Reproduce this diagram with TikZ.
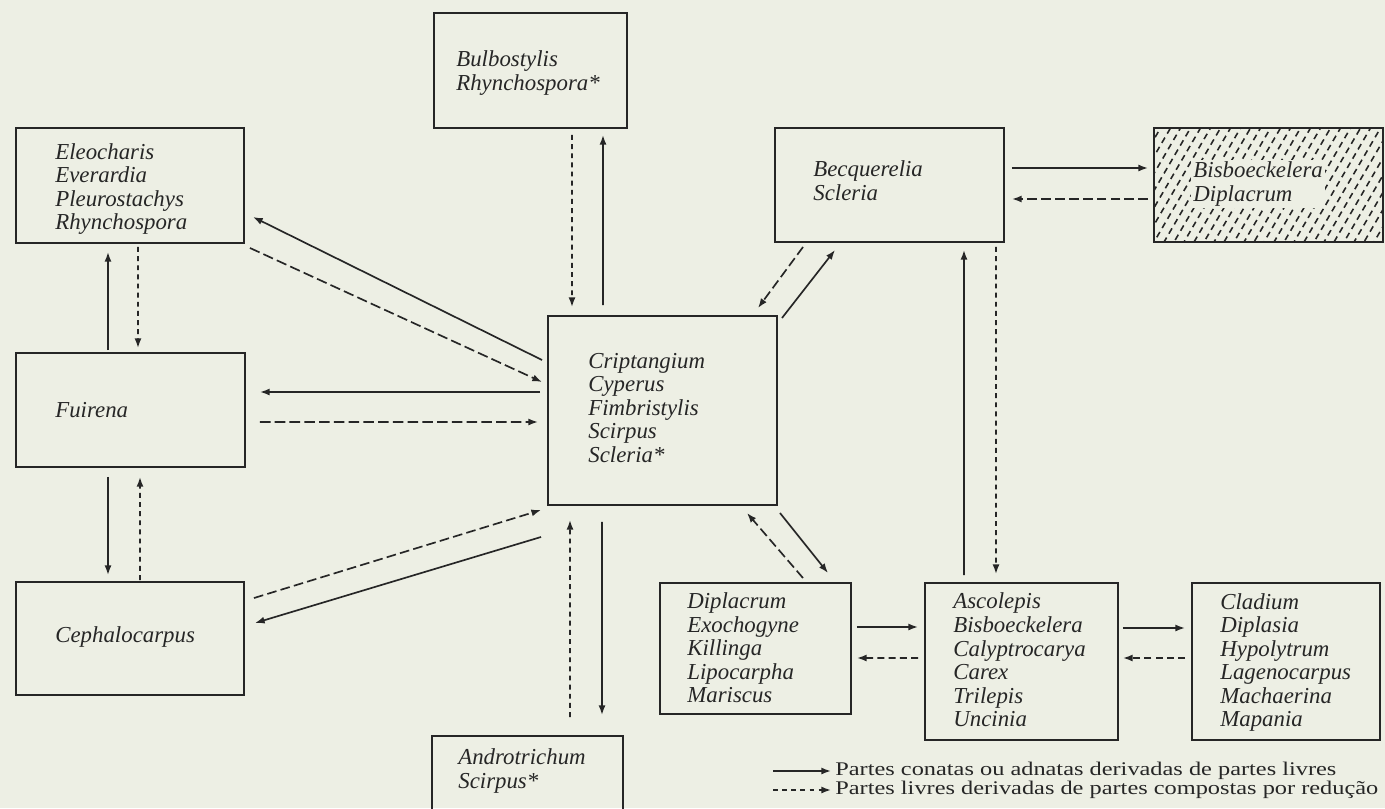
\documentclass[tikz,border=0pt]{standalone}
\usepackage{fontspec}
\setmainfont{Liberation Serif}
\newfontfamily\keyfont{Liberation Serif}[FakeStretch=1.26]
\usepackage{tikz}
\usetikzlibrary{arrows.meta, calc}
\definecolor{paper}{HTML}{EDEFE4}
\definecolor{ink}{HTML}{262626}

\begin{document}
\begin{tikzpicture}[
		x=0.02cm, y=-0.02cm,
		genus/.style={draw=ink, line width=1.2pt, inner sep=0pt, outer sep=0pt},
		names/.style={anchor=west, align=left, inner sep=0pt, text=ink, font=\fontsize{13}{13.4}\selectfont\itshape},
		key/.style={anchor=west, inner sep=0pt, text=ink, font=\keyfont\fontsize{11}{11}\selectfont},
		conata/.style={-{Latex[length=5.5pt,width=4pt]}, draw=ink, line width=0.95pt},
		livre/.style={conata, dash pattern=on #1 off 2.4pt},
		livre/.default=5.5pt
	]
	\fill[paper] (0,0) rectangle (1385,808);
	\useasboundingbox (0,0) rectangle (1385,808);

	% Left column
	\node[genus, minimum width=4.56cm, minimum height=2.3cm] (eleo) at (130,185.5) {};
	\node[names] (eleoT) at (55,189) {Eleocharis\\Everardia\\Pleurostachys\\Rhynchospora};
	\node[genus, minimum width=4.58cm, minimum height=2.28cm] (fuir) at (130.5,410) {};
	\node[names] (fuirT) at (55,410) {Fuirena};
	\node[genus, minimum width=4.56cm, minimum height=2.26cm] (ceph) at (130,638.5) {};
	\node[names] (cephT) at (55,637) {Cephalocarpus};

	% Middle column
	\node[genus, minimum width=3.86cm, minimum height=2.3cm] (bulb) at (530.5,70.5) {};
	\node[names] (bulbT) at (456,73) {Bulbostylis\\Rhynchospora*};
	\node[genus, minimum width=4.58cm, minimum height=3.78cm] (crip) at (662.5,410.5) {};
	\node[names] (cripT) at (588,408) {Criptangium\\Cyperus\\Fimbristylis\\Scirpus\\Scleria*};
	\node[genus, minimum width=3.82cm, minimum height=1.88cm] (andro) at (527.5,783) {};
	\node[names] (androT) at (458,771) {Androtrichum\\Scirpus*};

	% Right part
	\node[genus, minimum width=4.58cm, minimum height=2.28cm] (becq) at (889.5,185) {};
	\node[names] (becqT) at (813,180.5) {Becquerelia\\Scleria};
	\node[genus, minimum width=4.58cm, minimum height=2.28cm] (bisb) at (1268.5,185) {};
	\begin{scope}
		\clip (bisb.south west) rectangle (bisb.north east);
		\foreach \k [evaluate=\k as \ph using {mod(\k*7,11)*0.6}] in {0,...,30}
			\draw[ink, line width=0.9pt, dash pattern=on 3.5pt off 2.6pt, dash phase=\ph pt]
				($(bisb.south west)+(-70+10*\k,0)$) -- ++(70,-120);
	\end{scope}
	\node[names, fill=paper, inner sep=1.2pt] (bisbT) at (1191,184) {Bisboeckelera\\Diplacrum};
	\node[genus, minimum width=3.82cm, minimum height=2.62cm] (dipl) at (755.5,648.5) {};
	\node[names] (diplT) at (687,648) {Diplacrum\\Exochogyne\\Killinga\\Lipocarpha\\Mariscus};
	\node[genus, minimum width=3.86cm, minimum height=3.14cm] (asco) at (1021.5,661.5) {};
	\node[names] (ascoT) at (953,660) {Ascolepis\\Bisboeckelera\\Calyptrocarya\\Carex\\Trilepis\\Uncinia};
	\node[genus, minimum width=3.76cm, minimum height=3.14cm] (clad) at (1286,661.5) {};
	\node[names] (cladT) at (1220,662.5) {Cladium\\Diplasia\\Hypolytrum\\Lagenocarpus\\Machaerina\\Mapania};

	% Left column links
	\draw[conata] ($(fuir.north)+(-22.5,-3)$) -- ($(eleo.south)+(-22,9)$);
	\draw[livre=2.8pt] ($(eleo.south)+(8,4)$) -- ($(fuir.north)+(7.5,-5)$);
	\draw[conata] ($(fuir.south)+(-22.5,10)$) -- ($(ceph.north)+(-22,-7)$);
	\draw[livre=2.8pt] ($(ceph.north)+(10,-2)$) -- ($(fuir.south)+(9.5,10)$);

	% Links around the centre box
	\draw[livre=2.8pt] ($(bulb.south)+(41.5,7)$) -- ($(crip.north)+(-90.5,-9)$);
	\draw[conata] ($(crip.north)+(-59.5,-11)$) -- ($(bulb.south)+(72.5,7)$);
	\draw[conata] ($(crip.west)+(-6,-50.5)$) -- ($(eleo.south east)+(9,-26)$);
	\draw[livre=6pt] ($(eleo.south east)+(6,5)$) -- ($(crip.west)+(-6,-28.5)$);
	\draw[conata] ($(crip.west)+(-8,-18.5)$) -- ($(fuir.east)+(15,-18)$);
	\draw[livre=6pt] ($(fuir.east)+(15,12)$) -- ($(crip.west)+(-10,11.5)$);
	\draw[livre] ($(ceph.north east)+(10,16)$) -- ($(crip.south west)+(-7,5)$);
	\draw[conata] ($(crip.south west)+(-7,32)$) -- ($(ceph.north east)+(11,41)$);
	\draw[livre=2.8pt] ($(andro.north)+(42.5,-19)$) -- ($(crip.south)+(-92.5,15)$);
	\draw[conata] ($(crip.south)+(-60.5,17)$) -- ($(andro.north)+(74.5,-21)$);
	\draw[conata] ($(crip.south east)+(3,8)$) -- ($(dipl.north)+(72.5,-10)$);
	\draw[livre] ($(dipl.north)+(47.5,-5)$) -- ($(crip.south east)+(-30,8)$);
	\draw[conata] ($(crip.north east)+(5,2)$) -- ($(becq.south west)+(60,8)$);
	\draw[livre] ($(becq.south west)+(28,5)$) -- ($(crip.north east)+(-19,-8)$);

	% Right part links
	\draw[conata] ($(becq.east)+(8,-17)$) -- ($(bisb.west)+(-6,-17)$);
	\draw[livre] ($(bisb.west)+(-6,14)$) -- ($(becq.east)+(8,14)$);
	\draw[conata] ($(asco.north)+(-57.5,-8)$) -- ($(becq.south)+(74.5,8)$);
	\draw[livre=2.8pt] ($(becq.south)+(106.5,5)$) -- ($(asco.north)+(-25.5,-9)$);
	\draw[conata] ($(dipl.east)+(6,-21.5)$) -- ($(asco.west)+(-7,-34.5)$);
	\draw[livre=4pt] ($(asco.west)+(-7,-3.5)$) -- ($(dipl.east)+(6,9.5)$);
	\draw[conata] ($(asco.east)+(5,-33.5)$) -- ($(clad.west)+(-7,-33.5)$);
	\draw[livre=4pt] ($(clad.west)+(-7,-3.5)$) -- ($(asco.east)+(5,-3.5)$);

	% Key
	\coordinate (keyA) at (773,771);
	\coordinate (keyB) at (773,790);
	\node[key] (keyAT) at (835,771) {Partes conatas ou adnatas derivadas de partes livres};
	\node[key] (keyBT) at (835,790) {Partes livres derivadas de partes compostas por redução};
	\draw[conata] (keyA) -- ($(keyAT.west)+(-4,0)$);
	\draw[livre=2.8pt] (keyB) -- ($(keyBT.west)+(-4,0)$);
\end{tikzpicture}
\end{document}
